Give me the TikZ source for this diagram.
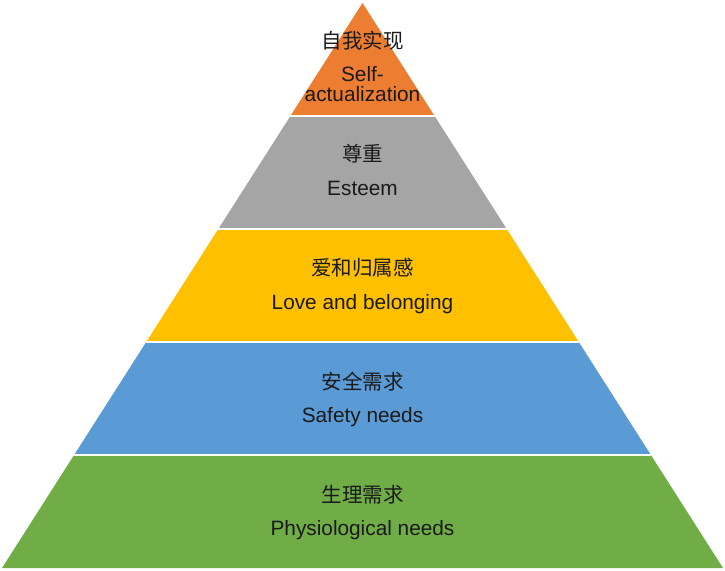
\documentclass[tikz,border=0pt]{standalone}
\usepackage{fontspec}
\setmainfont{Liberation Sans}
\newfontfamily\cjk{Noto Sans CJK SC}
\usetikzlibrary{calc}
\definecolor{lvorange}{HTML}{ED7D31}
\definecolor{lvgray}{HTML}{A5A5A5}
\definecolor{lvyellow}{HTML}{FFC000}
\definecolor{lvblue}{HTML}{5B9BD5}
\definecolor{lvgreen}{HTML}{70AD47}
\definecolor{lvtext}{HTML}{1A1A1A}
\begin{document}
\begin{tikzpicture}[x=1pt,y=-1pt,
  zh/.style={anchor=base,inner sep=0pt,text=lvtext,font=\cjk\fontsize{20.5}{20.5}\selectfont},
  en/.style={anchor=base,inner sep=0pt,text=lvtext,font=\fontsize{20.8}{20.8}\selectfont},
  sep/.style={draw=white,line width=1.8pt}]
\useasboundingbox (0,0) rectangle (725,570);
\coordinate (A) at (362.5,3);
\coordinate (BL) at (2,568);
\coordinate (BR) at (723,568);
\coordinate (L1) at ($(A)!0.2!(BL)$);
\coordinate (L2) at ($(A)!0.4!(BL)$);
\coordinate (L3) at ($(A)!0.6!(BL)$);
\coordinate (L4) at ($(A)!0.8!(BL)$);
\coordinate (R1) at ($(A)!0.2!(BR)$);
\coordinate (R2) at ($(A)!0.4!(BR)$);
\coordinate (R3) at ($(A)!0.6!(BR)$);
\coordinate (R4) at ($(A)!0.8!(BR)$);
\fill[lvorange] (A) -- (R1) -- (L1) -- cycle;
\fill[lvgray] (L1) -- (R1) -- (R2) -- (L2) -- cycle;
\fill[lvyellow] (L2) -- (R2) -- (R3) -- (L3) -- cycle;
\fill[lvblue] (L3) -- (R3) -- (R4) -- (L4) -- cycle;
\fill[lvgreen] (L4) -- (R4) -- (BR) -- (BL) -- cycle;
\draw[sep] (L1) -- (R1);
\draw[sep] (L2) -- (R2);
\draw[sep] (L3) -- (R3);
\draw[sep] (L4) -- (R4);
% texts
\node[zh] (t1zh) at (362.5,48) {自我实现};
\node[en] (t1en1) at (362.5,81.5) {Self-};
\node[en] (t1en2) at (362.5,101.8) {actualization};
\node[zh] (t2zh) at (362.5,161.5) {尊重};
\node[en] (t2en) at (362.5,195.5) {Esteem};
\node[zh] (t3zh) at (362.5,275.5) {爱和归属感};
\node[en] (t3en) at (362.5,309.3) {Love and belonging};
\node[zh] (t4zh) at (362.5,389) {安全需求};
\node[en] (t4en) at (362.5,422.5) {Safety needs};
\node[zh] (t5zh) at (362.5,502) {生理需求};
\node[en] (t5en) at (362.5,535.5) {Physiological needs};
\end{tikzpicture}
\end{document}
